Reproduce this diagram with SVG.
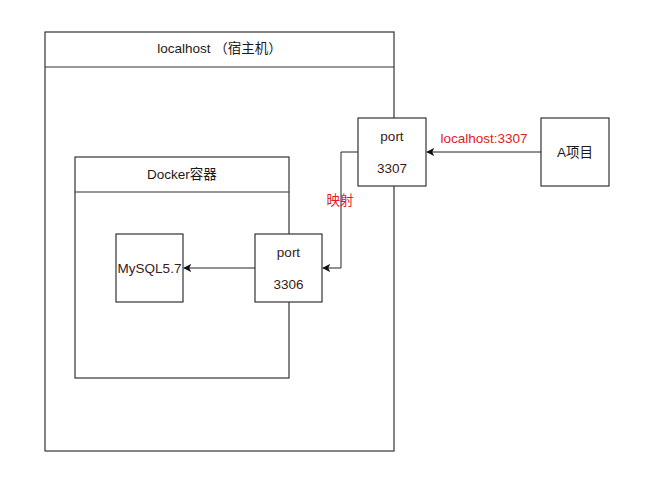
<svg xmlns="http://www.w3.org/2000/svg" width="650" height="488" viewBox="0 0 650 488">
<style>
.box{fill:#fff;stroke:#333;stroke-width:1.2}
.line{fill:none;stroke:#222;stroke-width:1}
text{font-family:"Liberation Sans","Noto Sans CJK SC",Arial,sans-serif;font-size:13.5px;text-anchor:middle;dominant-baseline:central}
.t{fill:#1a1a1a}
.m{fill:#3a1a1a}
.r{fill:#e02020}
</style>
<defs>
<marker id="arr" viewBox="0 0 10 10" refX="9" refY="5" markerWidth="8" markerHeight="8" markerUnits="userSpaceOnUse" orient="auto">
<path d="M0,0 L10,5 L0,10 L2.5,5 Z" fill="#111"/>
</marker>
</defs>
<rect width="650" height="488" fill="#fff"/>
<g id="host">
<rect class="box" x="45" y="32" width="349" height="419"/>
<line class="box" x1="45" y1="67" x2="394" y2="67"/>
<text class="t" x="219.5" y="48">localhost （宿主机）</text>
</g>
<g id="docker">
<rect class="box" x="75" y="157" width="214" height="221"/>
<line class="box" x1="75" y1="192" x2="289" y2="192"/>
<text class="t" x="182" y="174">Docker容器</text>
</g>
<g id="mysql">
<rect class="box" x="116" y="234" width="67" height="68"/>
<text class="m" x="149.5" y="268">MySQL5.7</text>
</g>
<g id="port3306">
<rect class="box" x="255" y="234" width="67" height="68"/>
<text class="m" x="288.5" y="252">port</text>
<text class="m" x="288.5" y="284">3306</text>
</g>
<g id="port3307">
<rect class="box" x="358" y="118" width="68" height="68"/>
<text class="m" x="392" y="136">port</text>
<text class="m" x="392" y="168">3307</text>
</g>
<g id="projectA">
<rect class="box" x="541" y="118" width="68" height="68"/>
<text class="t" x="575" y="152">A项目</text>
</g>
<g id="connectors">
<line class="line" x1="541" y1="152" x2="427" y2="152" marker-end="url(#arr)"/>
<path class="line" d="M358,152 H341 V268 H323" marker-end="url(#arr)"/>
<line class="line" x1="255" y1="268" x2="184" y2="268" marker-end="url(#arr)"/>
<text class="r" x="484" y="138">localhost:3307</text>
<text class="r" x="340" y="200">映射</text>
</g>
</svg>
